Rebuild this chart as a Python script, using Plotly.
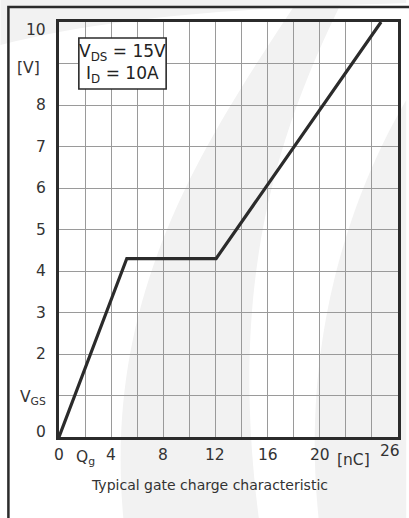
import plotly.graph_objects as go

# ---- data ----
gate_charge_nc = [0, 5.2, 12.05, 24.7]
vgs_volts = [0, 4.3, 4.3, 10]

x_tick_vals = [0, 2, 4, 8, 12, 16, 20, 22.6, 26]
x_tick_text = ["0", "Q<sub>g</sub>", "4", "8", "12", "16", "20", "[nC]", "26"]
y_tick_vals = [0, 2, 3, 4, 5, 6, 7, 8, 10]
y_tick_text = ["0", "2", "3", "4", "5", "6", "7", "8", "10"]
y_unit_label = "[V]"
y_name_label = "V<sub>GS</sub>"
condition_text = "V<sub>DS</sub> = 15V<br>I<sub>D</sub> = 10A"
caption = "Typical gate charge characteristic"

# ---- layout geometry (pixels) ----
W, H = 409, 518
L, R, T, B = 59, 400.7, 22, 437
FONT = "DejaVu Sans"
DARK = "#2b2b2b"


def px(x):
    return (x - L) / (R - L)


def py(y):
    return (B - y) / (B - T)


fig = go.Figure()
fig.add_trace(go.Scatter(x=gate_charge_nc, y=vgs_volts, mode="lines",
                         line=dict(color=DARK, width=3.2), cliponaxis=False,
                         hoverinfo="skip", showlegend=False))

shapes = []
GRAY = "#f2f2f2"


def path_px(cmds):
    out = []
    for c in cmds:
        if isinstance(c, str):
            out.append(c)
        else:
            out.append(f"{px(c[0]):.4f},{py(c[1]):.4f}")
    return " ".join(out)


wm = [
    ["M", (0, 0), "L", (409, 0), "L", (409, 3), "C", (250, 8), (120, 15), (0, 45), "Z"],
    ["M", (125, 530), "C", (100, 300), (200, 150), (300, 0), "L", (345, 0),
     "C", (270, 150), (230, 300), (262, 530), "Z"],
    ["M", (322, 530), "C", (300, 350), (350, 200), (409, 100), "L", (409, 530), "Z"],
]
for p in wm:
    shapes.append(dict(type="path", xref="paper", yref="paper", path=path_px(p),
                       fillcolor=GRAY, line=dict(width=0), layer="below"))

# outer frame
shapes.append(dict(type="rect", xref="paper", yref="paper",
                   x0=px(8), x1=px(430), y0=py(7), y1=py(540),
                   line=dict(color=DARK, width=2.5), layer="above"))
# condition box
shapes.append(dict(type="rect", xref="paper", yref="paper",
                   x0=px(79), x1=px(167), y0=py(38), y1=py(89),
                   fillcolor="white", line=dict(color=DARK, width=1.6), layer="above"))

annotations = []
for v, t in zip(x_tick_vals, x_tick_text):
    xv = v
    ypix = 455
    if v == 26:
        xv = 25.35
        ypix = 451
    if t == "[nC]":
        ypix = 460
    if t.startswith("Q"):
        ypix = 458
    annotations.append(dict(x=xv, xref="x", y=py(ypix), yref="paper", text=t,
                            showarrow=False, xanchor="center", yanchor="middle",
                            font=dict(family=FONT, size=15.5, color="#333")))
for v, t in zip(y_tick_vals, y_tick_text):
    yv = v
    if v == 0:
        yv = 0.13
    if v == 10:
        yv = 9.8
    annotations.append(dict(x=px(48), xref="paper", y=yv, yref="y", text=t,
                            showarrow=False, xanchor="right", yanchor="middle",
                            font=dict(family=FONT, size=15.5, color="#333")))
annotations.append(dict(x=px(28), xref="paper", y=py(68), yref="paper", text=y_unit_label,
                        showarrow=False, xanchor="center", yanchor="middle",
                        font=dict(family=FONT, size=15.5, color="#333")))
annotations.append(dict(x=px(33), xref="paper", y=py(398), yref="paper", text=y_name_label,
                        showarrow=False, xanchor="center", yanchor="middle",
                        font=dict(family=FONT, size=15.5, color="#333")))
annotations.append(dict(x=px(123), xref="paper", y=py(63), yref="paper", text=condition_text,
                        showarrow=False, xanchor="center", yanchor="middle", align="center",
                        font=dict(family=FONT, size=17, color="#222")))
annotations.append(dict(x=px(211), xref="paper", y=py(485), yref="paper", text=caption,
                        showarrow=False, xanchor="center", yanchor="middle",
                        font=dict(family=FONT, size=14, color="#333")))

fig.update_layout(
    width=W, height=H,
    margin=dict(l=L, r=W - R, t=T, b=H - B, pad=0),
    paper_bgcolor="white", plot_bgcolor="rgba(0,0,0,0)",
    shapes=shapes, annotations=annotations, showlegend=False,
    xaxis=dict(range=[0, 26], dtick=2, tick0=0, showgrid=True, gridcolor="#9a9a9a",
               gridwidth=1, showticklabels=False, ticks="", zeroline=False,
               showline=True, linecolor=DARK, linewidth=2.8, mirror=True, fixedrange=True),
    yaxis=dict(range=[0, 10], dtick=1, tick0=0, showgrid=True, gridcolor="#9a9a9a",
               gridwidth=1, showticklabels=False, ticks="", zeroline=False,
               showline=True, linecolor=DARK, linewidth=2.8, mirror=True, fixedrange=True),
)

fig.write_html("out.html", config={"displayModeBar": False},
               post_script="document.body.style.margin='0';document.body.style.overflow='hidden';")
